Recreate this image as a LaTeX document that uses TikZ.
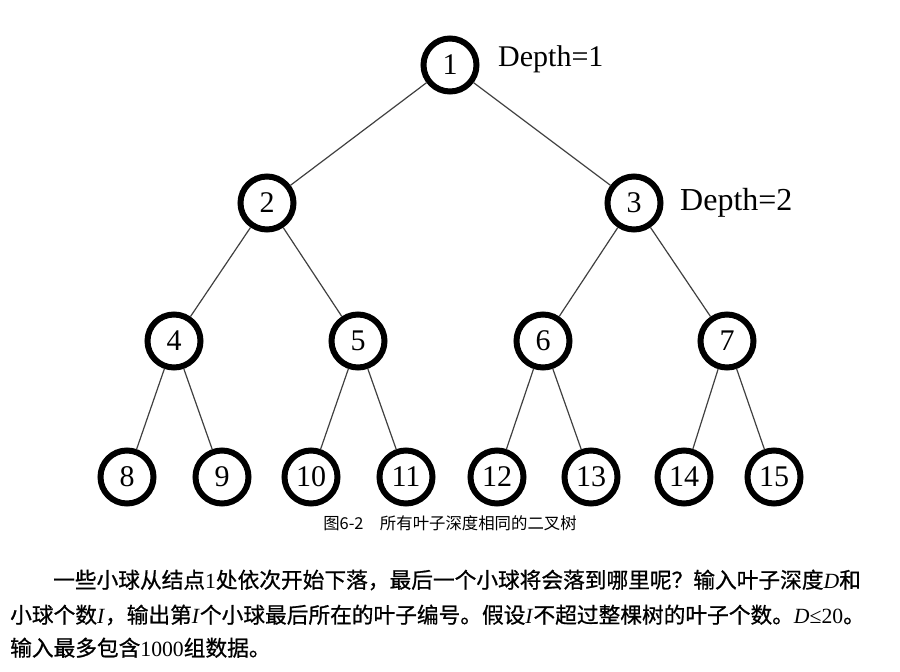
\documentclass[tikz,border=0pt]{standalone}
\usepackage{fontspec}
\setmainfont{Liberation Serif}
\newfontfamily\cjk{Noto Sans CJK SC}
\newfontfamily\cjkbody{Noto Sans CJK SC}[FakeBold=0.8]

\begin{document}
\begin{tikzpicture}[x=1pt,y=-1pt]
		    \tikzstyle{circ}=[circle, draw, line width=6pt, inner sep=0pt, minimum size=53pt, font=\fontsize{30}{30}\selectfont]
		    \tikzstyle{edge}=[draw=black!75, line width=1.2pt]
		    \tikzstyle{body}=[anchor=base west, inner sep=0pt, font=\fontsize{21.7}{26}\selectfont]

		    \useasboundingbox (0,0) rectangle (900,672);

		    % level 1 and 2
		    \node[circ] (n1) at (450,65) {1};
		    \node[circ] (n2) at (267,203) {2};
		    \node[circ] (n3) at (634,203) {3};
		    % level 3
		    \node[circ] (n4) at (174,341) {4};
		    \node[circ] (n5) at (358,341) {5};
		    \node[circ] (n6) at (543,341) {6};
		    \node[circ] (n7) at (727,341) {7};
		    % leaves
		    \node[circ] (n8) at (127,477) {8};
		    \node[circ] (n9) at (222,477) {9};
		    \node[circ] (n10) at (311,477) {10};
		    \node[circ] (n11) at (406,477) {11};
		    \node[circ] (n12) at (497,477) {12};
		    \node[circ] (n13) at (591,477) {13};
		    \node[circ] (n14) at (684,477) {14};
		    \node[circ] (n15) at (774,477) {15};

		    \draw[edge] (n1) -- (n2);
		    \draw[edge] (n1) -- (n3);
		    \draw[edge] (n2) -- (n4);
		    \draw[edge] (n2) -- (n5);
		    \draw[edge] (n3) -- (n6);
		    \draw[edge] (n3) -- (n7);
		    \draw[edge] (n4) -- (n8);
		    \draw[edge] (n4) -- (n9);
		    \draw[edge] (n5) -- (n10);
		    \draw[edge] (n5) -- (n11);
		    \draw[edge] (n6) -- (n12);
		    \draw[edge] (n6) -- (n13);
		    \draw[edge] (n7) -- (n14);
		    \draw[edge] (n7) -- (n15);

		    \node[anchor=base west, inner sep=0pt, font=\fontsize{30}{30}\selectfont] (d1) at (498,66) {Depth=1};
		    \node[anchor=base west, inner sep=0pt, font=\fontsize{32}{32}\selectfont] (d2) at (680,210) {Depth=2};

		    \node[anchor=base, inner sep=0pt, font=\cjk\fontsize{16.4}{18}\selectfont] (cap) at (450,529) {图6-2　所有叶子深度相同的二叉树};

		    \node[body] (t1) at (53,588) {{\cjkbody 一些小球从结点}1{\cjkbody 处依次开始下落，最后一个小球将会落到哪里呢？输入叶子深度}\textit{D}{\cjkbody 和}};
		    \node[body] (t2) at (10,623) {{\cjkbody 小球个数}\textit{I}{\cjkbody ，输出第}\textit{I}{\cjkbody 个小球最后所在的叶子编号。假设}\textit{I}{\cjkbody 不超过整棵树的叶子个数。}\textit{D}≤20{\cjkbody 。}};
		    \node[body] (t3) at (10,656) {{\cjkbody 输入最多包含}1000{\cjkbody 组数据。}};
		    \end{tikzpicture}
\end{document}
